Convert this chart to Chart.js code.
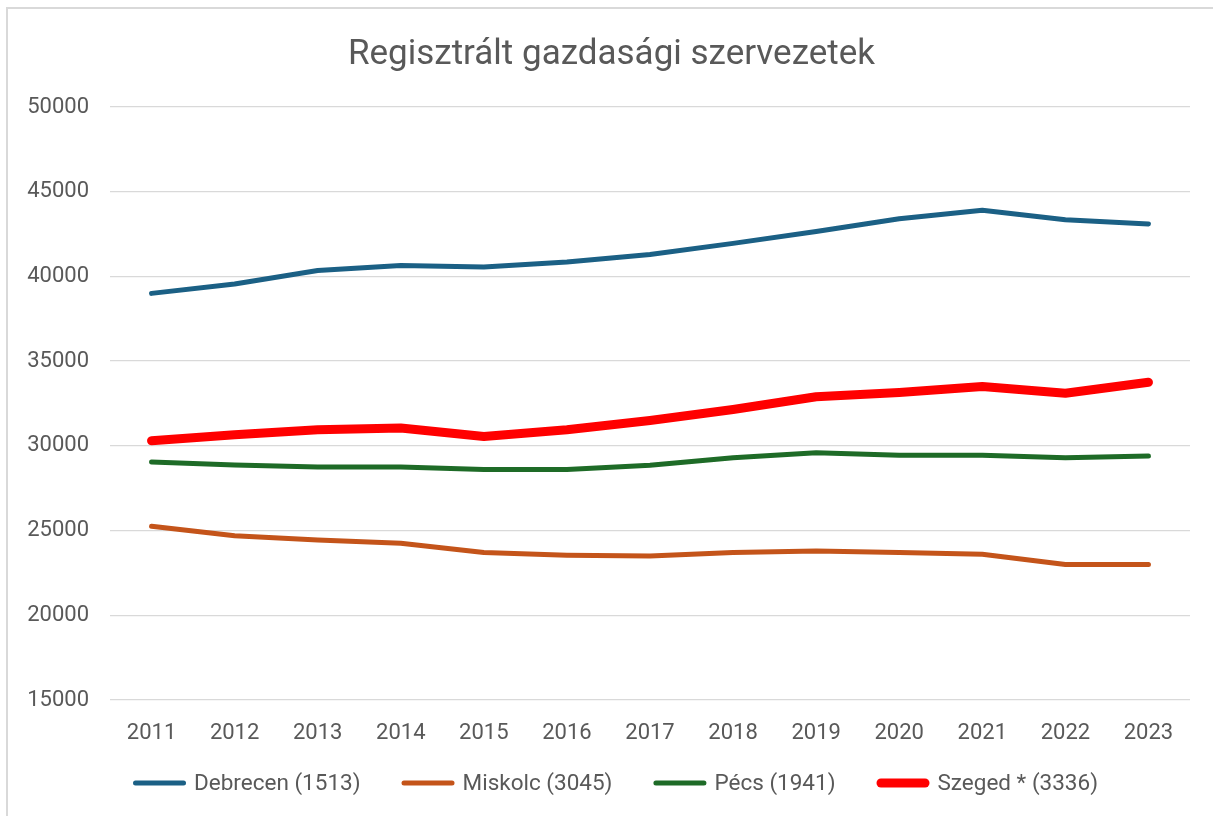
<!DOCTYPE html>
<html>
<head>
<meta charset="utf-8">
<script src="https://cdn.jsdelivr.net/npm/chart.js@4"></script>
<style>
  html, body { margin: 0; padding: 0; background: #fff; }
  #wrap { position: relative; width: 1213px; height: 816px; overflow: hidden; }
  #frame { position: absolute; left: 6px; top: 7px; width: 1300px; height: 900px;
           border-left: 2px solid #d9d9d9; border-top: 2px solid #d9d9d9; box-sizing: border-box; }
  canvas { position: absolute; left: 0; top: 0; }
</style>
</head>
<body>
<div id="wrap">
  <div id="frame"></div>
  <canvas id="c" width="1213" height="816"></canvas>
</div>
<script>
const years = ['2011','2012','2013','2014','2015','2016','2017','2018','2019','2020','2021','2022','2023'];
const debrecen = [39000, 39550, 40350, 40650, 40550, 40850, 41300, 41950, 42650, 43400, 43900, 43350, 43100];
const miskolc  = [25250, 24700, 24450, 24250, 23700, 23550, 23500, 23700, 23800, 23700, 23600, 23000, 23000];
const pecs     = [29050, 28870, 28750, 28750, 28600, 28600, 28850, 29300, 29600, 29450, 29450, 29300, 29400];
const szeged   = [30300, 30650, 30950, 31050, 30550, 30950, 31500, 32150, 32900, 33150, 33500, 33100, 33750];
const seriesNames = ['Debrecen (1513)', 'Miskolc (3045)', 'Pécs (1941)', 'Szeged * (3336)'];
const yMin = 15000, yMax = 50000, yStep = 5000;
const titleText = 'Regisztrált gazdasági szervezetek';

const FONT = 'Roboto, "Liberation Sans", sans-serif';
const TXT = '#595959';

function ds(label, data, color, width) {
  return { label, data, borderColor: color, backgroundColor: color, borderWidth: width,
           pointRadius: 0, pointHoverRadius: 0, tension: 0, fill: false,
           borderCapStyle: 'round', borderJoinStyle: 'round' };
}

const legendPlugin = {
  id: 'customLegend',
  afterDraw(chart) {
    const ctx = chart.ctx;
    const fs = 22.5;
    ctx.save();
    ctx.font = fs + 'px ' + FONT;
    ctx.textBaseline = 'middle';
    ctx.textAlign = 'left';
    const lineW = 53, gapText = 8, gapItem = 41;
    const items = chart.data.datasets.map(d => ({ d, tw: ctx.measureText(d.label).width }));
    const total = items.reduce((s, it) => s + lineW + gapText + it.tw, 0) + gapItem * (items.length - 1);
    let x = (chart.width - total) / 2 + 9;
    const y = 783;
    items.forEach(it => {
      ctx.strokeStyle = it.d.borderColor;
      ctx.lineWidth = it.d.borderWidth;
      ctx.lineCap = 'round';
      ctx.beginPath();
      ctx.moveTo(x + it.d.borderWidth / 2, y);
      ctx.lineTo(x + lineW - it.d.borderWidth / 2, y);
      ctx.stroke();
      ctx.fillStyle = TXT;
      ctx.fillText(it.d.label, x + lineW + gapText, y + 1);
      x += lineW + gapText + it.tw + gapItem;
    });
    ctx.restore();
  }
};

new Chart(document.getElementById('c'), {
  type: 'line',
  data: {
    labels: years,
    datasets: [
      ds(seriesNames[0], debrecen, '#1b6085', 5),
      ds(seriesNames[1], miskolc, '#c4541a', 5),
      ds(seriesNames[2], pecs, '#1e6b27', 5),
      ds(seriesNames[3], szeged, '#ff0000', 9)
    ]
  },
  options: {
    responsive: false,
    animation: false,
    events: [],
    layout: { padding: { left: 10, right: 0, top: 4, bottom: 0 } },
    plugins: {
      legend: { display: false },
      tooltip: { enabled: false },
      title: {
        display: true, text: titleText, color: TXT,
        font: { family: FONT, size: 35, weight: 'normal' },
        padding: { top: 30, bottom: 31 }
      }
    },
    scales: {
      x: {
        offset: true,
        grid: { display: false, drawTicks: false },
        border: { display: false },
        ticks: { color: TXT, font: { family: FONT, size: 22 }, padding: 20, maxRotation: 0 },
        afterFit(s) { s.height = 116; }
      },
      y: {
        min: yMin, max: yMax,
        grid: { color: '#d9d9d9', lineWidth: 1.3, drawTicks: false },
        border: { display: false },
        ticks: { stepSize: yStep, color: TXT, font: { family: FONT, size: 22 }, padding: 21,
                 callback: v => String(v) },
        afterFit(s) { s.width = 100; }
      },
      yRightSpace: {
        position: 'right', display: true,
        grid: { display: false, drawTicks: false },
        border: { display: false },
        ticks: { display: false },
        afterFit(s) { s.width = 23; }
      }
    }
  },
  plugins: [legendPlugin]
});
</script>
</body>
</html>
